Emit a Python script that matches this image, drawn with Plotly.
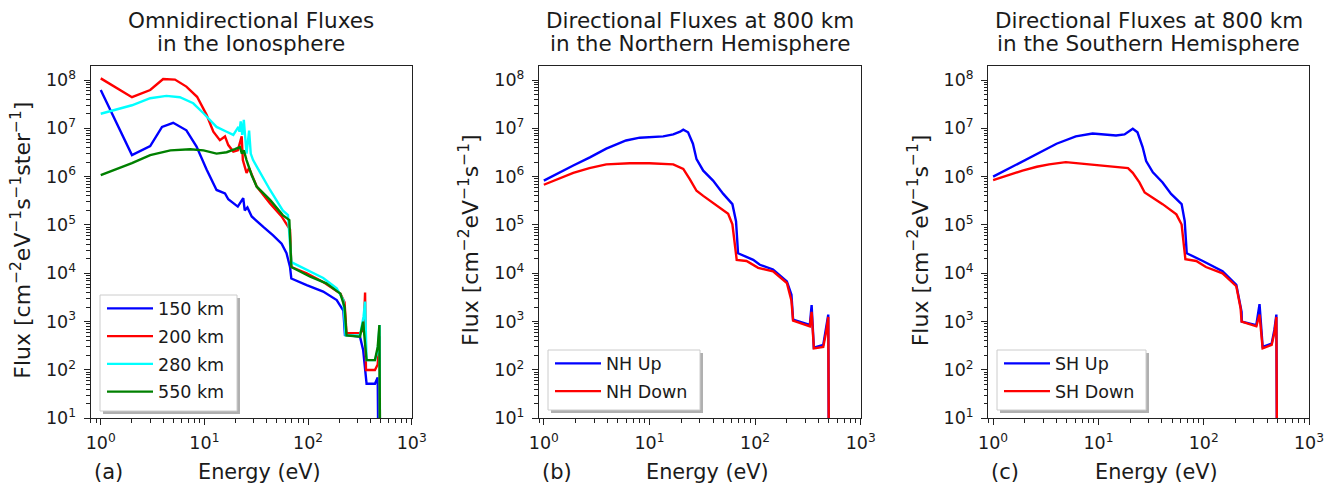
import plotly.graph_objects as go
import math

# ---------------- Data ----------------
# Panel (a): omnidirectional fluxes in the ionosphere
E_150 = [1, 2, 3, 3.9, 5.0, 6.7, 8.4, 10.5, 13.1, 15.8, 17, 19, 21, 23.7, 24.5, 26, 28.6, 37, 46, 55.6, 62, 67, 69, 97, 140, 189, 219, 227, 317, 340, 367, 442, 470, 478]
F_150 = [6.2e7, 2.8e6, 4.3e6, 1.07e7, 1.3e7, 9.1e6, 4.2e6, 1.4e6, 5.3e5, 4.5e5, 3.4e5, 2.8e5, 2.4e5, 3.6e5, 2.0e5, 2.3e5, 1.5e5, 9.1e4, 6.1e4, 4.1e4, 2.6e4, 1.35e4, 7.8e3, 5.7e3, 4.2e3, 2.8e3, 1.7e3, 530, 490, 260, 52, 52, 70, 1]

E_200 = [1, 2, 3, 4, 5.2, 6.7, 8.5, 10.5, 12.2, 14.1, 15.8, 17, 19, 21, 22.9, 23.5, 25.5, 27, 32, 43, 55.6, 62, 67, 69, 97, 140, 205, 225, 235, 317, 345, 355, 362, 442, 470, 490, 495]
F_200 = [1.08e8, 4.4e7, 6.2e7, 1.05e8, 1.02e8, 7.3e7, 4.5e7, 1.9e7, 8.5e6, 5.7e6, 6.8e6, 4.5e6, 3.3e6, 3.5e6, 6.8e6, 2.2e6, 1.2e6, 1.5e6, 6.2e5, 2.8e5, 1.5e5, 1.07e5, 8e4, 1.35e4, 1.0e4, 6.6e3, 3.8e3, 2.5e3, 580, 580, 700, 4.0e3, 100, 100, 130, 500, 1]

E_280 = [1, 2, 3, 4.3, 5.8, 7.8, 9.8, 13.1, 16.4, 19, 21.3, 21.8, 22.4, 23.2, 24, 25.5, 27, 28, 29.5, 32, 43, 57, 64, 69, 97, 140, 189, 219, 230, 317, 343, 355, 367, 442, 470, 490, 495]
F_280 = [2.0e7, 3.0e7, 4.2e7, 4.7e7, 4.4e7, 3.3e7, 2.05e7, 1.07e7, 8.5e6, 7.3e6, 1.07e7, 8.5e6, 1.4e7, 7.3e6, 1.5e7, 3.0e6, 9.0e6, 3.0e6, 2.2e6, 1.6e6, 5.3e5, 2.0e5, 1.6e5, 1.7e4, 1.17e4, 8.0e3, 4.9e3, 2.8e3, 520, 520, 1.27e3, 2.6e3, 160, 160, 250, 850, 1]

E_550 = [1, 2, 3, 4.7, 7.3, 9.8, 13.1, 16.4, 19.7, 22, 23, 24, 25.5, 28.6, 32, 43, 57, 66, 69, 105, 150, 205, 225, 235, 317, 340, 350, 367, 442, 470, 488, 496]
F_550 = [1.07e6, 1.9e6, 2.8e6, 3.5e6, 3.7e6, 3.5e6, 3.0e6, 3.2e6, 3.7e6, 4.1e6, 3.0e6, 3.5e6, 2.2e6, 1.07e6, 6.2e5, 3.3e5, 1.6e5, 1.26e5, 1.35e4, 8.5e3, 6.2e3, 3.8e3, 2.0e3, 520, 490, 1.0e3, 490, 160, 160, 300, 850, 1]

# Panel (b): directional fluxes at 800 km, Northern Hemisphere
E_NH_up = [1, 1.32, 1.9, 2.73, 3.9, 6.0, 8.1, 13.5, 16.8, 19.5, 20.9, 23.2, 25.8, 27.9, 32.3, 40, 50, 61, 66, 69, 96, 111, 148, 200, 221, 229, 330, 343, 360, 442, 470, 493, 500]
F_NH_up = [8.3e5, 1.15e6, 1.7e6, 2.5e6, 3.8e6, 5.6e6, 6.4e6, 6.8e6, 7.5e6, 8.5e6, 9.4e6, 8.3e6, 4.8e6, 2.3e6, 1.33e6, 8.3e5, 4.4e5, 2.7e5, 1.2e5, 2.6e4, 1.9e4, 1.5e4, 1.2e4, 6.8e3, 3.6e3, 1.1e3, 860, 2.2e3, 290, 330, 700, 1.4e3, 1]

E_NH_down = [1, 1.4, 1.9, 2.7, 3.9, 6.5, 10, 16.8, 20.9, 24, 27.9, 32.3, 40, 55.6, 61, 67, 83, 107, 148, 200, 221, 229, 330, 343, 360, 442, 470, 493, 500]
F_NH_down = [6.8e5, 9.3e5, 1.2e6, 1.5e6, 1.8e6, 1.9e6, 1.9e6, 1.8e6, 1.45e6, 9.0e5, 5.1e5, 4.0e5, 2.9e5, 1.7e5, 1.03e5, 1.9e4, 1.8e4, 1.3e4, 1.1e4, 6.3e3, 2.7e3, 1.05e3, 800, 1.6e3, 280, 300, 600, 1.25e3, 1]

# Panel (c): directional fluxes at 800 km, Southern Hemisphere
E_SH_up = [1, 1.35, 1.9, 2.8, 4.0, 6.1, 8.8, 14.7, 17.7, 21.2, 23.5, 26.3, 28.4, 32.9, 40.7, 49, 61.7, 66, 69, 98, 151, 204, 229, 230, 316, 339, 363, 442, 470, 490, 497]
F_SH_up = [1.0e6, 1.4e6, 2.1e6, 3.2e6, 4.8e6, 6.8e6, 7.8e6, 7.1e6, 7.5e6, 9.8e6, 8.3e6, 4.1e6, 2.1e6, 1.23e6, 7.6e5, 4.4e5, 2.7e5, 1.2e5, 2.6e4, 1.8e4, 1.1e4, 5.8e3, 1.6e3, 1.0e3, 850, 2.3e3, 300, 350, 700, 1.4e3, 1]

E_SH_down = [1, 1.4, 1.9, 2.6, 3.4, 4.9, 8.2, 14.7, 19.1, 21.2, 24.5, 27.5, 32.9, 40.7, 55, 61.7, 67, 85, 105, 151, 204, 224, 229, 316, 339, 363, 442, 470, 490, 497]
F_SH_down = [8.5e5, 1.08e6, 1.33e6, 1.6e6, 1.8e6, 2.0e6, 1.8e6, 1.6e6, 1.5e6, 1.2e6, 7.6e5, 4.7e5, 3.7e5, 2.7e5, 1.66e5, 1.02e5, 1.95e4, 1.8e4, 1.35e4, 1.0e4, 5.4e3, 1.9e3, 1.0e3, 800, 1.4e3, 280, 330, 600, 1.25e3, 1]

title_line1 = ["Omnidirectional Fluxes", "Directional Fluxes at 800 km", "Directional Fluxes at 800 km"]
title_line2 = ["in the Ionosphere", "in the Northern Hemisphere", "in the Southern Hemisphere"]
panel_tags = ["(a)", "(b)", "(c)"]
y_titles = ["Flux [cm<sup>−2</sup>eV<sup>−1</sup>s<sup>−1</sup>ster<sup>−1</sup>]",
            "Flux [cm<sup>−2</sup>eV<sup>−1</sup>s<sup>−1</sup>]",
            "Flux [cm<sup>−2</sup>eV<sup>−1</sup>s<sup>−1</sup>]"]
x_title = "Energy (eV)"
x_ticks = [1, 10, 100, 1000]
x_ticktext = ["10<sup>0</sup>", "10<sup>1</sup>", "10<sup>2</sup>", "10<sup>3</sup>"]
y_ticks = [10, 1e2, 1e3, 1e4, 1e5, 1e6, 1e7, 1e8]
y_ticktext = ["10<sup>%d</sup>" % k for k in range(1, 9)]

# ---------------- Figure ----------------
W, H = 1334, 488
FONT = "DejaVu Sans"
TXT = "#1a1a1a"

def fx(p):
    return p / W

def fy(p):
    return 1 - p / H

x_dom_px = [(90.7, 411.7), (539.0, 860.7), (988.3, 1309.0)]
y_top_px, y_bot_px = 65.5, 418.3
x_lo = [0.8, 0.9, 0.9]

series = [
    (1, "150 km", E_150, F_150, "#0000ff", "legend"),
    (1, "200 km", E_200, F_200, "#ff0000", "legend"),
    (1, "280 km", E_280, F_280, "#00ffff", "legend"),
    (1, "550 km", E_550, F_550, "#008000", "legend"),
    (2, "NH Up", E_NH_up, F_NH_up, "#0000ff", "legend2"),
    (2, "NH Down", E_NH_down, F_NH_down, "#ff0000", "legend2"),
    (3, "SH Up", E_SH_up, F_SH_up, "#0000ff", "legend3"),
    (3, "SH Down", E_SH_down, F_SH_down, "#ff0000", "legend3"),
]

fig = go.Figure()
for k, name, ex, fl, col, lg in series:
    sfx = "" if k == 1 else str(k)
    fig.add_trace(go.Scatter(x=ex, y=fl, mode="lines", name=name,
                             line=dict(color=col, width=2.4),
                             legendgroup=name,
                             xaxis="x" + sfx, yaxis="y" + sfx, legend=lg))

minor_x = [m * 10 ** d for d in range(-1, 3) for m in range(2, 10)]
minor_y = [m * 10 ** d for d in range(1, 9) for m in range(2, 10)]

layout = dict(width=W, height=H,
              margin=dict(l=0, r=0, t=0, b=0, pad=0, autoexpand=False),
              paper_bgcolor="white", plot_bgcolor="white",
              font=dict(family=FONT, color=TXT, size=17), showlegend=True)

annotations = []
shapes = []
for i in range(3):
    sfx = "" if i == 0 else str(i + 1)
    x0, x1 = x_dom_px[i]
    layout["xaxis" + sfx] = dict(
        type="log", domain=[fx(x0), fx(x1)], anchor="y" + sfx, automargin=False,
        range=[math.log10(x_lo[i]), 3.0], showgrid=False, zeroline=False,
        showline=True, linecolor="#222", linewidth=1.3, mirror=True,
        ticks="outside", ticklen=6, tickwidth=1.2, tickcolor="#222",
        tickvals=x_ticks, ticktext=x_ticktext, tickfont=dict(size=17.5),
        ticklabelstandoff=3,
        minor=dict(ticks="outside", ticklen=3.5, tickwidth=1, tickcolor="#222",
                   tickvals=[v for v in minor_x if v >= x_lo[i] and v < 1000]))
    layout["yaxis" + sfx] = dict(
        type="log", domain=[fy(y_bot_px), fy(y_top_px)], anchor="x" + sfx, automargin=False,
        range=[1.0, 8.30], showgrid=False, zeroline=False,
        showline=True, linecolor="#222", linewidth=1.3, mirror=True,
        ticks="outside", ticklen=6, tickwidth=1.2, tickcolor="#222",
        tickvals=y_ticks, ticktext=y_ticktext, tickfont=dict(size=17.5),
        ticklabelstandoff=4,
        minor=dict(ticks="outside", ticklen=3.5, tickwidth=1, tickcolor="#222",
                   tickvals=[v for v in minor_y if v < 2e8]))
    cx = (x0 + x1) / 2
    annotations.append(dict(text=title_line1[i], xref="paper", yref="paper",
                            x=fx(cx), y=fy(20.5), xanchor="center", yanchor="middle",
                            showarrow=False, font=dict(size=21.5, color=TXT)))
    annotations.append(dict(text=title_line2[i], xref="paper", yref="paper",
                            x=fx(cx), y=fy(43.5), xanchor="center", yanchor="middle",
                            showarrow=False, font=dict(size=21.5, color=TXT)))
    annotations.append(dict(text=x_title, xref="paper", yref="paper",
                            x=fx(cx + 8), y=fy(472), xanchor="center", yanchor="middle",
                            showarrow=False, font=dict(size=20.8, color=TXT)))
    annotations.append(dict(text=panel_tags[i], xref="paper", yref="paper",
                            x=fx(x0 + 1), y=fy(472), xanchor="left", yanchor="middle",
                            showarrow=False, font=dict(size=21, color=TXT)))
    annotations.append(dict(text=y_titles[i], xref="paper", yref="paper",
                            x=fx(x0 - 70), y=fy(240),
                            xanchor="center", yanchor="middle", textangle=-90,
                            showarrow=False, font=dict(size=22, color=TXT)))

# legend boxes (drawn as shapes, with a drop shadow like matplotlib)
leg_boxes = [(100, 295, 237, 411), (548, 350, 700, 410), (997, 350, 1146, 410)]
leg_names = ["legend", "legend2", "legend3"]
for (bx0, by0, bx1, by1), ln in zip(leg_boxes, leg_names):
    shapes.append(dict(type="rect", xref="paper", yref="paper", layer="above",
                       x0=fx(bx0 + 3), x1=fx(bx1 + 3), y0=fy(by1 + 3), y1=fy(by0 + 3),
                       fillcolor="#b0b0b0", line=dict(width=0)))
    shapes.append(dict(type="rect", xref="paper", yref="paper", layer="above",
                       x0=fx(bx0), x1=fx(bx1), y0=fy(by1), y1=fy(by0),
                       fillcolor="white", line=dict(color="#cccccc", width=1)))
    layout[ln] = dict(x=fx(bx0 + 2), y=fy(by0 - 4.5), xanchor="left", yanchor="top",
                      bgcolor="rgba(0,0,0,0)", borderwidth=0,
                      font=dict(size=17.5, color=TXT), itemwidth=46,
                      traceorder="grouped", tracegroupgap=2)

layout["annotations"] = annotations
layout["shapes"] = shapes
fig.update_layout(**layout)
fig.write_html("out.html")
